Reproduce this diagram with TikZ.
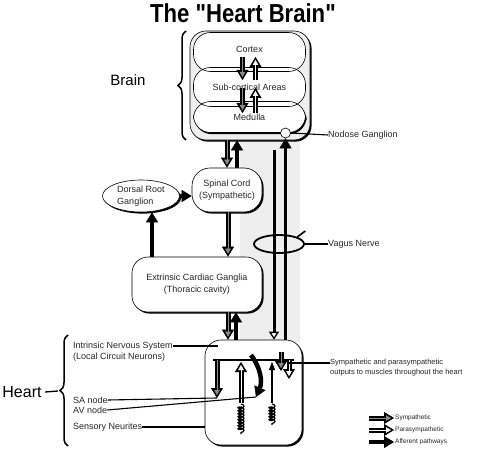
\documentclass[tikz,border=0pt]{standalone}
\usepackage{fontspec}
\setmainfont{Liberation Sans}
\usetikzlibrary{positioning, calc, arrows.meta, shapes.geometric, shadows, decorations.pathreplacing, decorations.pathmorphing}
\definecolor{Channel}{HTML}{EEEEEE}
\definecolor{Tint}{HTML}{8A8A8A}
\tikzset{
    organ/.style={rectangle, rounded corners=16pt, draw=black, semithick, fill=white, align=center, text=black!85, font=\fontsize{9}{12}\selectfont, drop shadow={shadow xshift=1.6pt, shadow yshift=-1.6pt, fill=black, opacity=1}},
    layer/.style={rectangle, rounded corners=17pt, minimum width=112pt, text=black!85, font=\fontsize{9}{11}\selectfont},
    tag/.style={inner sep=0pt, text=black!85, font=\fontsize{9}{11}\selectfont},
    smalltag/.style={inner sep=0pt, text=black!85, font=\fontsize{7.5}{9}\selectfont},
    legendtag/.style={inner sep=0pt, text=black!85, font=\fontsize{6.5}{8}\selectfont},
    nervecase/.style={draw=black, line width=5pt, -{Triangle[length=10pt, width=12pt, line width=0.4pt]}},
    nervecore/.style={line width=0.9pt, shorten >=3pt, -{Triangle[length=5pt, width=5.5pt, line width=0.4pt]}},
    vagal/.style={draw=black, line width=3pt, -{Triangle[open, fill=white, length=8pt, width=10pt, line width=1.3pt]}},
    aff/.style={draw=black, line width=4.5pt, -{Triangle[length=10pt, width=12pt, line width=0.4pt]}},
    thinaff/.style={draw=black, line width=1.6pt, -{Triangle[length=8pt, width=6pt, line width=0.4pt]}},
    lead/.style={draw=black, line width=1.1pt},
    neurite/.style={decorate, decoration={coil, amplitude=3pt, segment length=3pt, aspect=0.5}, line width=1.2pt},
    bracket/.style={decorate, decoration={brace, amplitude=8pt}, line width=1.5pt},
}
% outlined nerve arrows: grey core = sympathetic, white core = parasympathetic
\newcommand{\symparrow}[2]{\draw[nervecase] #1 -- #2; \draw[nervecore, draw=Tint] #1 -- #2;}
\newcommand{\paraarrow}[2]{\draw[nervecase] #1 -- #2; \draw[nervecore, draw=white] #1 -- #2;}

\begin{document}
\begin{tikzpicture}[x=1pt, y=-1pt, >=Latex]
    \useasboundingbox (0,0) rectangle (493,452);

    % title
    \node[font=\bfseries\fontsize{26}{28}\selectfont] (title) at (243,13) {\scalebox{0.85}[1]{The \textquotedbl Heart Brain\textquotedbl}};

    % grey channel between brain and heart
    \fill[Channel] (240,138) rectangle (300,342);

    % brain
    \node[organ, fill=Channel, minimum width=120pt, minimum height=109pt] (brain) at (250,85.5) {};
    \node[layer, fill=white, minimum height=39pt] at (249.5,52) {};
    \node[layer, fill=white, minimum height=39pt] at (249.5,87) {};
    \node[layer, fill=white, minimum height=31pt, drop shadow={shadow xshift=1pt, shadow yshift=-1.6pt, fill=black, opacity=1}] at (249.5,117) {};
    \node[layer, draw, semithick, minimum height=39pt, text depth=6pt] (cortex) at (249.5,52) {Cortex};
    \node[layer, draw, semithick, minimum height=39pt] (subcort) at (249.5,87) {Sub-cortical Areas};
    \node[layer, draw, semithick, minimum height=31pt] (medulla) at (249.5,117) {Medulla};

    \symparrow{([shift={(-7,5)}]cortex.center)}{([shift={(-7,-7)}]subcort.center)}
    \paraarrow{([shift={(6,-7)}]subcort.center)}{([shift={(6,5)}]cortex.center)}
    \symparrow{([shift={(-7,1)}]subcort.center)}{([shift={(-7,-4)}]medulla.center)}
    \paraarrow{([shift={(6,-4)}]medulla.center)}{([shift={(6,1)}]subcort.center)}

    \node[font=\fontsize{15}{17}\selectfont] (brainlbl) at (128,80) {Brain};
    \draw[bracket] (186,140) -- (186,31);

    % spinal level
    \node[organ, minimum width=70pt, minimum height=44pt, rounded corners=18pt] (spinal) at (227,190) {Spinal Cord\\(Sympathetic)};
    \node[organ, ellipse, minimum width=77pt, minimum height=32pt, inner sep=1pt, align=left] (dorsal) at (141,196) {Dorsal Root\\Ganglion};
    \node[organ, minimum width=130pt, minimum height=55pt] (ext) at (197,284.5) {Extrinsic Cardiac Ganglia\\(Thoracic cavity)};

    % heart
    \node[organ, minimum width=97pt, minimum height=105pt] (heart) at (253.5,392.5) {};

    % vagus
    \node[circle, draw, semithick, fill=white, minimum size=10pt, inner sep=0pt] (nodose) at (285.5,133) {};
    \node[ellipse, draw, line width=1.8pt, minimum width=50pt, minimum height=18pt, inner sep=0pt] (loop) at (279,244) {};
    \draw[line width=1.6pt] (loop.north east) -- ++(8,-6);
    \coordinate (vagtop) at (274,150);
    \draw[vagal] (vagtop) -- (274,0 |- heart.north);
    \draw[aff, line width=2.8pt] (285.5,0 |- heart.north) -- (nodose.south);

    % brain <-> spinal cord <-> ganglia <-> heart
    \symparrow{(227,0 |- brain.south)}{(227,0 |- spinal.north)}
    \draw[aff] (237,0 |- spinal.north) -- (237,0 |- brain.south);
    \symparrow{(228,0 |- spinal.south)}{(228,0 |- ext.north)}
    \draw[aff] (dorsal.east) -- (dorsal.east -| spinal.west);
    \draw[aff] (152,0 |- ext.north) -- (152,0 |- dorsal.south);
    \symparrow{(228,0 |- ext.south)}{(228,0 |- heart.north)}
    \draw[aff] (236,0 |- heart.north) -- (236,0 |- ext.south);

    % inside the heart
    \coordinate (insL) at (213,360);
    \coordinate (insR) at (294,360);
    \coordinate (saTip) at (217,398);
    \draw[line width=1.8pt] (insL) -- (insR);
    \symparrow{(217,360)}{(saTip)}
    \paraarrow{(241,403)}{(241,362)}
    \draw[neurite] (241,404) -- (241,434);
    \draw[aff] (251,355) to[bend left=30] (256,397) coordinate (avTip);
    \draw[thinaff] (272,403) -- (272,362);
    \draw[neurite] (272,404) -- (272,425);
    \symparrow{(281,352)}{(281,371)}
    \paraarrow{(289,360)}{(289,379)}

    % heart labels
    \node[font=\fontsize{16}{18}\selectfont] (heartlbl) at (22,392) {Heart};
    \coordinate (htip) at (58,391);
    \draw[line width=1.3pt] (heartlbl.east) -- (htip);
    \draw[bracket] (68,446) -- (68,335);

    \node[tag, anchor=west] (intr) at (73,346) {Intrinsic Nervous System};
    \node[tag, below=2pt of intr.south west, anchor=north west] (intr2) {(Local Circuit Neurons)};
    \draw[lead] (intr.east) -- (218,0 |- intr.east);
    \node[tag, anchor=west] (sa) at (73,400) {SA node};
    \draw[lead] (sa.east) -- (saTip);
    \node[tag, anchor=west] (av) at (73,410) {AV node};
    \draw[lead] (av.east) -- (avTip);
    \node[tag, anchor=west] (sens) at (73,427) {Sensory Neurites};
    \draw[lead] (sens.east) -- (sens.east -| heart.west);

    % right labels
    \node[tag, anchor=west] (nod) at (328,135) {Nodose Ganglion};
    \draw[lead] (nodose.east) -- (nod.west);
    \node[tag, anchor=west] (vag) at (328,244) {Vagus Nerve};
    \draw[lead] (loop.east) -- (vag.west);
    \node[smalltag, anchor=west] (outs) at (330,363) {Sympathetic and parasympathetic};
    \node[smalltag, below=2pt of outs.south west, anchor=north west] (outs2) {outputs to muscles throughout the heart};
    \draw[lead] (289,0 |- outs.west) -- (outs.west);

    % legend
    \node[legendtag, anchor=west] (lsym) at (395,418) {Sympathetic};
    \node[legendtag, anchor=west] (lpar) at (395,430) {Parasympathetic};
    \node[legendtag, anchor=west] (laff) at (395,442) {Afferent pathways};
    \symparrow{([xshift=-26pt]lsym.west)}{([xshift=-1pt]lsym.west)}
    \paraarrow{([xshift=-26pt]lpar.west)}{([xshift=-1pt]lpar.west)}
    \draw[aff] ([xshift=-26pt]laff.west) -- ([xshift=-1pt]laff.west);
\end{tikzpicture}
\end{document}
